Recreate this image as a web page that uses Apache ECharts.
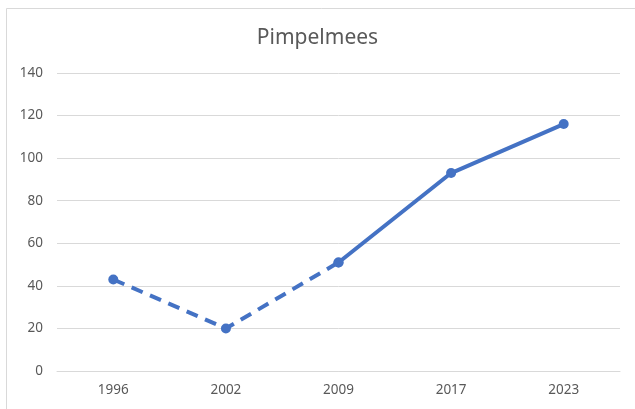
<!DOCTYPE html>
<html><head><meta charset="utf-8">
<script src="https://cdn.jsdelivr.net/npm/echarts@6/dist/echarts.min.js"></script>
<style>html,body{margin:0;padding:0;background:#fff}#c{width:635px;height:409px}</style>
</head><body><div id="c"></div>
<script>
const title = "Pimpelmees";
const categories = ["1996", "2002", "2009", "2017", "2023"];
const values = [43, 20, 51, 93, 116];
const dashedUntil = 2; // index where the dashed part ends
const yTicks = { min: 0, max: 140, interval: 20 };

const dashedData = values.map((v, i) => i <= dashedUntil ? v : '-');
const solidData = values.map((v, i) => i >= dashedUntil ? v : '-');
const font = '"Noto Sans", "Open Sans", sans-serif';
const chart = echarts.init(document.getElementById('c'), null, { renderer: 'canvas' });
chart.setOption({
  animation: false,
  backgroundColor: '#fff',
  graphic: [{ type: 'rect', shape: { x: 6.5, y: 8.5, width: 640, height: 420 }, style: { fill: 'none', stroke: '#d9d9d9', lineWidth: 1 }, silent: true, z: -1 }],
  title: { text: title, left: 'center', top: 23, textStyle: { fontFamily: font, fontSize: 21, fontWeight: 'normal', color: '#595959' } },
  grid: { left: 57, right: 15, top: 73, bottom: 38, containLabel: false },
  xAxis: {
    type: 'category', data: categories, boundaryGap: true,
    axisLine: { show: true, lineStyle: { color: '#d9d9d9', width: 1 } },
    axisTick: { show: false },
    axisLabel: { color: '#595959', fontFamily: font, fontSize: 13.5, margin: 12 }
  },
  yAxis: {
    type: 'value', min: yTicks.min, max: yTicks.max, interval: yTicks.interval,
    axisLine: { show: false }, axisTick: { show: false },
    splitLine: { lineStyle: { color: '#d9d9d9', width: 1 } },
    axisLabel: { color: '#595959', fontFamily: font, fontSize: 13.5, margin: 14 }
  },
  series: [
    { type: 'line', data: dashedData, symbol: 'circle', symbolSize: 10, color: '#4472C4',
      lineStyle: { width: 4, type: [12, 8], color: '#4472C4' }, itemStyle: { color: '#4472C4' } },
    { type: 'line', data: solidData, symbol: 'circle', symbolSize: 10, color: '#4472C4',
      lineStyle: { width: 4, type: 'solid', color: '#4472C4' }, itemStyle: { color: '#4472C4' } }
  ]
});
</script></body></html>
